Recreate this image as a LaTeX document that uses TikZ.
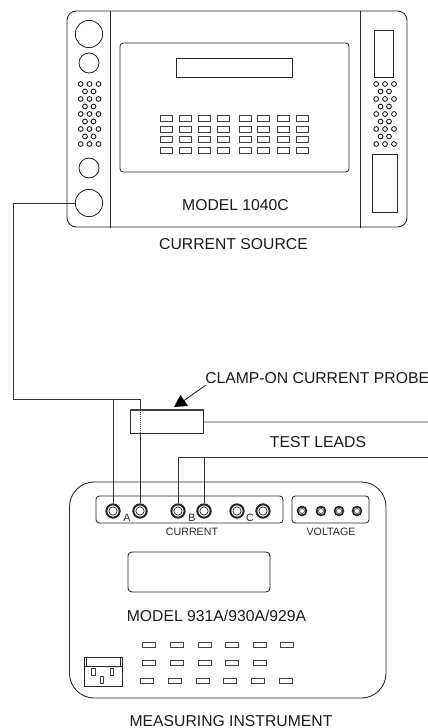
\documentclass[tikz,border=0pt]{standalone}
\usepackage{fontspec}
\setmainfont{Liberation Sans}
\newcommand{\bigtxt}{\fontsize{11.8pt}{13pt}\selectfont}
\newcommand{\smalltxt}{\fontsize{8pt}{9pt}\selectfont}
\tikzset{
  ln/.style={draw=black!85,line width=0.65pt},
  wire/.style={draw=black!80,line width=0.6pt},
  panel/.style={ln,rounded corners=2.5pt},
  keycap/.style={draw=black!75,line width=0.6pt},
  bigdial/.style={circle,draw=black!85,line width=0.6pt,inner sep=0pt,minimum size=20.5pt},
  smalldial/.style={circle,draw=black!85,line width=0.6pt,inner sep=0pt,minimum size=15pt},
  sock/.style={circle,draw=black!85,line width=1.5pt,inner sep=0pt,minimum size=10pt},
  sockin/.style={circle,draw=black!80,line width=0.55pt,inner sep=0pt,minimum size=6.2pt},
  vsock/.style={circle,draw=black!85,line width=1.3pt,inner sep=0pt,minimum size=6.6pt},
  vsockin/.style={circle,draw=black!70,line width=0.5pt,inner sep=0pt,minimum size=3.8pt},
  vent/.style={circle,draw=black!90,line width=0.65pt,inner sep=0pt,minimum size=3.6pt},
  lbl/.style={inner sep=0pt,text=black!90,font=\bigtxt},
  slbl/.style={inner sep=0pt,text=black!85,font=\smalltxt}
}
\begin{document}
\begin{tikzpicture}[x=0.75pt,y=-0.75pt]
\useasboundingbox (0,0) rectangle (428,728);
% --- current source
\draw[ln,rounded corners=7pt] (67,11) rectangle (407,227);
\draw[ln] (110,11) -- (110,228);
\draw[ln] (360,11) -- (360,228);
\draw[panel] (120,43) rectangle (349,172);
\draw[ln] (176,58) rectangle (292,77);
\foreach \y in {115,126,136,147}
  \foreach \x in {160,179,198,217,239,257,277,296}
    \draw[keycap] (\x,\y) rectangle ++(12.5,6);
\node[bigdial] (d1) at (89,34) {};
\node[smalldial] (d2) at (89,63) {};
\node[smalldial] (d3) at (89,168) {};
\node[bigdial] (srcout) at (89,203) {};
\foreach \c in {0,295.5}{
  \foreach \y in {84,99,114,129,144}
    \foreach \x in {80.7,89.5,98.5}
      \node[vent] at (\x+\c,\y) {};
  \foreach \y in {91.5,106.5,121.5,136.5}
    \foreach \x in {85,93.5}
      \node[vent] at (\x+\c,\y) {};
}
\draw[ln] (374,30) rectangle (393,77);
\draw[ln] (372,154) rectangle (397,212);
\node[lbl] (m1) at (235.5,205) {MODEL 1040C};
\node[lbl] (t1) at (233.5,244) {CURRENT SOURCE};
% --- measuring instrument
\draw[ln,rounded corners=18.5pt] (69.5,482) rectangle (386,698);
\draw[panel] (96,496) rectangle (283,523);
\draw[panel] (292,496) rectangle (369,523);
\foreach \n/\x in {a1/113,a2/140,b1/178,b2/204,c1/237,c2/263}{
  \node[sock] (\n) at (\x,511) {};
  \node[sockin] at (\x,511) {};
}
\foreach \n/\x in {v1/302,v2/321,v3/339,v4/357}{
  \node[vsock] (\n) at (\x,511) {};
  \node[vsockin] at (\x,511) {};
}
\node[slbl] (la) at (127,517.5) {A};
\node[slbl] (lb) at (192,517.5) {B};
\node[slbl] (lc) at (250,517.5) {C};
\node[slbl] (lcur) at (192,532) {CURRENT};
\node[slbl] (lvol) at (331,532) {VOLTAGE};
\draw[ln,rounded corners=3pt] (128,552) rectangle (270,592);
\node[lbl] (m2) at (216.5,616) {MODEL 931A/930A/929A};
\foreach \x in {142,170,198,225,253,280}
  \draw[keycap] (\x,642) rectangle ++(13.5,5);
\foreach \x in {142,170,198,225,253}
  \draw[keycap] (\x,660) rectangle ++(13.5,5);
\foreach \x in {140,168,196,223,251,279}
  \draw[keycap] (\x,678) rectangle ++(13.5,5);
\draw[ln] (84,657) rectangle (122,686);
\draw[ln] (84,666.5) -- (122,666.5);
\draw[ln] (86,657) -- (86,666.5);
\draw[ln] (120.5,657) -- (120.5,666.5);
\draw[keycap] (91.8,668) rectangle (95,675);
\draw[keycap] (110.5,668) rectangle (113.7,675);
\draw[keycap] (100.5,676) rectangle (103.7,683);
\node[lbl] (t2) at (231,721) {MEASURING INSTRUMENT};
% --- probe
\coordinate (p1) at (13,203);
\coordinate (p2) at (13,399);
\coordinate (j1) at (113,399);
\coordinate (j2) at (140,399);
\coordinate (dtop) at (140,410);
\coordinate (dbot) at (140,433);
\node[draw=black!85,line width=0.7pt,inner sep=0pt,minimum width=54.75pt,minimum height=17.25pt,anchor=north west] (probe) at (130,410) {};
\draw[black!75,line width=1pt] (probe.north west) -- (probe.north east);
\draw[wire] (srcout.west) -- (p1) -- (p2) -- (j2) -- (dtop);
\draw[wire] (j1) -- (a1.north);
\draw[draw=black!70,line width=0.6pt,dash pattern=on 0.9pt off 0.6pt] (dtop) -- (dbot);
\draw[wire] (dbot) -- (a2.north);
\coordinate (e1) at (428,422);
\coordinate (e2) at (428,457);
\coordinate (b1t) at (178,457);
\coordinate (b2t) at (204,457);
\draw[wire] (probe.east) -- (e1);
\draw[wire] (e2) -- (b1t) -- (b1.north);
\draw[wire] (b2t) -- (b2.north);
\node[lbl,anchor=west] (clamp) at (205,378) {CLAMP-ON CURRENT PROBE};
\node[lbl] (tl) at (318,442) {TEST LEADS};
\coordinate (tip) at (174,407);
\draw[ln] (206,385) -- (184,400.5);
\fill[black] (tip) -- (180.5,395) -- (188,406) -- cycle;
\end{tikzpicture}
\end{document}
